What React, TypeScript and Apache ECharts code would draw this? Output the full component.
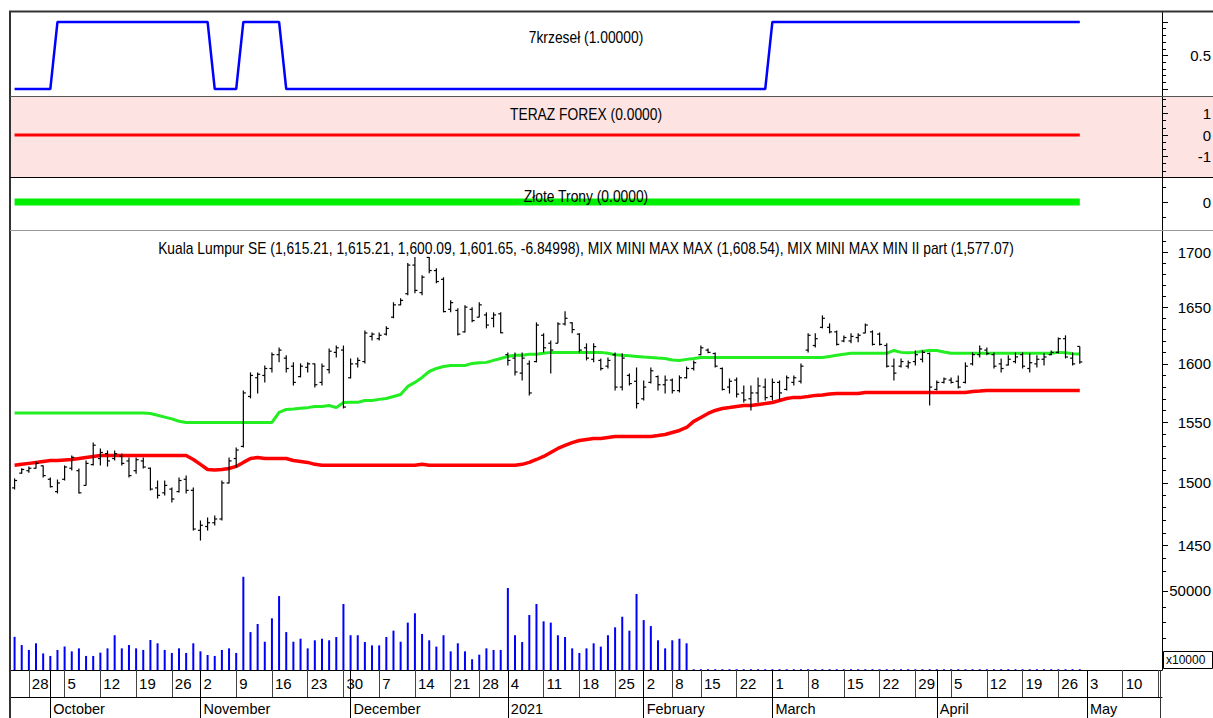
import React, { useEffect, useRef } from "react";
import * as echarts from "echarts";

// ---------- categories: trading days ----------
const TRADING_DAYS: [number, number, number[]][] = [
  [2020, 9, [24, 25, 28, 29, 30]],
  [2020, 10, [1, 2, 5, 6, 7, 8, 9, 12, 13, 14, 15, 16, 19, 20, 21, 22, 23, 26, 27, 28, 30]],
  [2020, 11, [2, 3, 4, 5, 6, 9, 10, 11, 12, 13, 16, 17, 18, 19, 20, 23, 24, 25, 26, 27, 30]],
  [2020, 12, [1, 2, 3, 4, 7, 8, 9, 10, 11, 14, 15, 16, 17, 18, 21, 22, 23, 24, 28, 29, 30, 31]],
  [2021, 1, [4, 5, 6, 7, 8, 11, 12, 13, 14, 15, 18, 19, 20, 21, 22, 25, 26, 27, 29]],
  [2021, 2, [2, 3, 4, 5, 8, 9, 10, 11, 15, 16, 17, 18, 19, 22, 23, 24, 25, 26]],
  [2021, 3, [1, 2, 3, 4, 5, 8, 9, 10, 11, 12, 15, 16, 17, 18, 19, 22, 23, 24, 25, 26, 29, 30, 31]],
  [2021, 4, [1, 2, 5, 6, 7, 8, 9, 12, 13, 14, 15, 16, 19, 20, 21, 22, 23, 26, 27, 28, 29]],
  [2021, 5, [3, 4, 5, 6, 7, 10, 11, 12, 13, 14, 17]],
];
const MONTH_NAMES = ["", "January", "February", "March", "April", "May", "June", "July", "August", "September", "October", "November", "December"];

// ---------- series values ----------
// Kuala Lumpur SE daily bars: [open, high, low, close]
const KLSE_BARS: number[][] = [
  [1496, 1503.7, 1494.7, 1502], [1508, 1512, 1507.6, 1511], [1510, 1513.4, 1508.4, 1512], [1512, 1517.6, 1511.8, 1516], [1514, 1514.3, 1504.4, 1506],
  [1503, 1504.4, 1496.3, 1497], [1493, 1502.8, 1491.5, 1500], [1503, 1514.3, 1502, 1513], [1512, 1522.5, 1510.1, 1521], [1510, 1511.8, 1491.5, 1492],
  [1498, 1518.4, 1498, 1516], [1515, 1533.2, 1514.3, 1531], [1520, 1528.2, 1514.3, 1525], [1524, 1526.6, 1513.4, 1518], [1520, 1526.6, 1518.4, 1524],
  [1522, 1524.1, 1514.3, 1516], [1518, 1520.9, 1504.4, 1506], [1510, 1520.9, 1507.6, 1519], [1518, 1520.9, 1511.8, 1513], [1512, 1512.6, 1493.9, 1495],
  [1496, 1502, 1487.4, 1490], [1492, 1502, 1489.8, 1498], [1495, 1496.3, 1484.2, 1487], [1493, 1504.4, 1492.3, 1502], [1503, 1506, 1491.5, 1494],
  [1494, 1496.3, 1461.8, 1463], [1462, 1469.8, 1453.9, 1466], [1465, 1472.2, 1461.8, 1468], [1468, 1473.8, 1465.8, 1471], [1471, 1502, 1469.8, 1500],
  [1500, 1520.9, 1499.6, 1518], [1520, 1529, 1512.6, 1527], [1530, 1577.1, 1529, 1575], [1572, 1592.6, 1570.3, 1590], [1588, 1592.6, 1574.5, 1591],
  [1590, 1598.6, 1584, 1596], [1596, 1610, 1592.6, 1608], [1608, 1614.3, 1601.3, 1612], [1605, 1607.4, 1592.6, 1596], [1598, 1601.3, 1581.4, 1584],
  [1589, 1600.4, 1588.3, 1598], [1597, 1601.3, 1592.6, 1600], [1600, 1600.4, 1579.7, 1582], [1584, 1600.4, 1581.4, 1598], [1595, 1613.4, 1591.7, 1611],
  [1610, 1616, 1605.6, 1614], [1612, 1616, 1561.8, 1563], [1588, 1604.7, 1587.4, 1600], [1600, 1605.6, 1596.9, 1603], [1602, 1629.3, 1600.4, 1627],
  [1624, 1627.5, 1620.5, 1626], [1622, 1627.5, 1620.5, 1625], [1626, 1632.9, 1624.9, 1631], [1641, 1654.3, 1640, 1652], [1652, 1657.9, 1651.6, 1656],
  [1662, 1689.9, 1660.6, 1688], [1688, 1695.4, 1662.4, 1665], [1663, 1678.8, 1660.6, 1677], [1695, 1695.4, 1680.6, 1683], [1683, 1685.2, 1671.5, 1673],
  [1675, 1676.9, 1645.3, 1646], [1648, 1656.1, 1645.3, 1654], [1647, 1648.9, 1624.9, 1626], [1628, 1651.6, 1627.5, 1650], [1648, 1649.8, 1636.4, 1638],
  [1641, 1654.3, 1640.9, 1652], [1643, 1645.3, 1631.1, 1634], [1640, 1645.3, 1632, 1643], [1644, 1645.3, 1626.7, 1627.2], [1608, 1610, 1598.6, 1603],
  [1605, 1610, 1590, 1593], [1592, 1610, 1585.7, 1605], [1600, 1603, 1572.8, 1575], [1602, 1636.4, 1601.3, 1634], [1625, 1626.7, 1610, 1614],
  [1618, 1620.5, 1591.7, 1612], [1618, 1636.4, 1617.9, 1635], [1635, 1646.2, 1633.7, 1640], [1636, 1636.4, 1626.7, 1630], [1626, 1626.7, 1610, 1612],
  [1614, 1617.9, 1603, 1605], [1604, 1617.9, 1601.3, 1615], [1603, 1604.7, 1594.3, 1596], [1598, 1605.6, 1596, 1603], [1608, 1610, 1577.1, 1580],
  [1580, 1609.2, 1577.1, 1605], [1590, 1591.7, 1581.4, 1583], [1585, 1596.9, 1561.8, 1566], [1570, 1585.7, 1568.6, 1580], [1584, 1596.9, 1583.1, 1594],
  [1589, 1590, 1577.1, 1582], [1582, 1590, 1574.5, 1586], [1586, 1587.4, 1574.5, 1577], [1577, 1590, 1575.4, 1588], [1588, 1597.7, 1587.4, 1596],
  [1596, 1603, 1594.3, 1601], [1608, 1616, 1607.4, 1614], [1612, 1613.4, 1609.2, 1610], [1609, 1610, 1596.9, 1598], [1596, 1596.9, 1577.1, 1578],
  [1580, 1587.4, 1574.5, 1585], [1586, 1588.3, 1571.1, 1574], [1575, 1581.4, 1566.9, 1569], [1570, 1581.4, 1560.1, 1575], [1575, 1588.3, 1566.9, 1581],
  [1580, 1587.4, 1568.6, 1571], [1572, 1587.4, 1568.6, 1584], [1584, 1585.7, 1568.6, 1575], [1578, 1590, 1577.1, 1588], [1584, 1590, 1581.4, 1588],
  [1585, 1600.4, 1583.1, 1598], [1612, 1626.7, 1610, 1625], [1616, 1626.7, 1614.3, 1622], [1632, 1642.6, 1631.1, 1640], [1632, 1635.5, 1626.7, 1628],
  [1628, 1629.3, 1616, 1617], [1620, 1624.9, 1618.8, 1623], [1620, 1626.7, 1617.9, 1624], [1623, 1626.7, 1618.8, 1625], [1627, 1635.5, 1626.7, 1634],
  [1628, 1629.3, 1616, 1617], [1626, 1627.5, 1616, 1617], [1616, 1617.9, 1596.9, 1598], [1598, 1604.7, 1585.7, 1592], [1598, 1604.7, 1596.9, 1602],
  [1598, 1603, 1596, 1601], [1602, 1611.7, 1598.6, 1608], [1604, 1611.7, 1601.3, 1610], [1609, 1610, 1564.3, 1580], [1578, 1585.7, 1577.1, 1584],
  [1584, 1588.3, 1583.1, 1587], [1586, 1588.3, 1583.1, 1584], [1585, 1590, 1578.8, 1580], [1584, 1601.3, 1583.1, 1598], [1600, 1610, 1598.6, 1608],
  [1608, 1616, 1605.6, 1613], [1612, 1614.3, 1607.4, 1609], [1608, 1610, 1596, 1598], [1600, 1604.7, 1592.6, 1596], [1599, 1607.4, 1598.6, 1604],
  [1602, 1610, 1600.4, 1606], [1608, 1610, 1596, 1598], [1596, 1609.2, 1592.6, 1601], [1600, 1607.4, 1596.9, 1604], [1604, 1609.2, 1598.6, 1606],
  [1608, 1611.7, 1607.4, 1610], [1610, 1623.1, 1609.2, 1622], [1622, 1624.9, 1604.7, 1606], [1605, 1610, 1598.6, 1600], [1615.21, 1615.21, 1600.09, 1601.65],
];

// MIX MINI MAX MAX
const MIX_MAX = [
  1558, 1558, 1558, 1558, 1558, 1558, 1558, 1558, 1558, 1558,
  1558, 1558, 1558, 1558, 1558, 1558, 1558, 1558, 1558, 1557.5,
  1556, 1554.5, 1553, 1551, 1550, 1550, 1550, 1550, 1550, 1550,
  1550, 1550, 1550, 1550, 1550, 1550, 1550, 1558.5, 1561, 1561.3,
  1562, 1562.5, 1563.4, 1563.4, 1564.3, 1562.5, 1566.9, 1567, 1567, 1568.6,
  1568.6, 1569.5, 1570.3, 1572, 1573.7, 1580.6, 1584, 1588.3, 1593.4, 1596,
  1597.7, 1598.6, 1598.6, 1598.6, 1600.4, 1601, 1601.3, 1603, 1604.7, 1606.5,
  1607.4, 1607.4, 1608.3, 1608.3, 1609.2, 1610, 1610, 1610, 1610, 1610,
  1610, 1610, 1610, 1609.2, 1608, 1607.4, 1607, 1606.5, 1606, 1605.6,
  1605, 1604.7, 1603.4, 1603, 1603.9, 1604.7, 1605.6, 1605.6, 1605.6, 1605.6,
  1605.6, 1605.6, 1605.6, 1605.6, 1605.6, 1605.6, 1605.6, 1605.6, 1605.6, 1605.6,
  1605.6, 1605.6, 1605.6, 1605.6, 1606.5, 1607.4, 1608.3, 1609.2, 1609.2, 1609.2,
  1609.2, 1609.2, 1609.2, 1611.7, 1610, 1609.6, 1610, 1610.9, 1611.7, 1611.7,
  1610.4, 1609.2, 1609.2, 1609.2, 1609.2, 1609.2, 1609.2, 1609.2, 1609.2, 1609.2,
  1609.2, 1609.2, 1609.2, 1609.2, 1609.2, 1609.2, 1610, 1609.6, 1608.8, 1608.54,
];

// MIX MINI MAX MIN II part
const MIX_MIN = [
  1514.4, 1515.2, 1516, 1516.8, 1517.6, 1518.4, 1518.4, 1518.8, 1519.2, 1520,
  1520.9, 1521.7, 1522.5, 1522.5, 1522.5, 1522.5, 1522.5, 1522.5, 1522.5, 1522.5,
  1522.5, 1522.5, 1522.5, 1522.5, 1522.5, 1519.2, 1515.2, 1511, 1510.5, 1511,
  1511.8, 1513.5, 1516.8, 1520, 1520.9, 1520, 1520, 1520, 1520, 1518.4,
  1517.6, 1516.8, 1515.2, 1514.4, 1514.4, 1514.4, 1514.4, 1514.4, 1514.4, 1514.4,
  1514.4, 1514.4, 1514.4, 1514.4, 1514.4, 1514.4, 1514.4, 1515.2, 1514.4, 1514.4,
  1514.4, 1514.4, 1514.4, 1514.4, 1514.4, 1514.4, 1514.4, 1514.4, 1514.4, 1514.4,
  1514.4, 1515.2, 1516.8, 1519.2, 1521.7, 1525, 1528.3, 1530.8, 1533.2, 1534.9,
  1535.7, 1536.5, 1536.5, 1537.4, 1538.2, 1538.2, 1538.2, 1538.2, 1538.2, 1538.2,
  1539, 1539.9, 1541.6, 1543.3, 1545.8, 1550.9, 1554.2, 1557.6, 1560.1, 1561.8,
  1562.6, 1563.5, 1564.3, 1564.3, 1565.2, 1566, 1566.9, 1568.6, 1570.3, 1571.2,
  1571.2, 1572, 1572.9, 1573.3, 1574.1, 1574.5, 1574.5, 1574.5, 1574.5, 1575.4,
  1575.4, 1575.4, 1575.4, 1575.4, 1575.4, 1575.4, 1575.4, 1575.4, 1575.4, 1575.4,
  1575.4, 1575.4, 1575.4, 1575.4, 1576.2, 1576.6, 1577.07, 1577.07, 1577.07, 1577.07,
  1577.07, 1577.07, 1577.07, 1577.07, 1577.07, 1577.07, 1577.07, 1577.07, 1577.07, 1577.07,
];

// Volume (x10000)
const VOLUME = [
  21000, 15800, 12700, 16900, 10500, 8900, 12700, 14800, 11800, 13700,
  8900, 8900, 11000, 13700, 22000, 13700, 15800, 13700, 12700, 19000,
  16900, 12700, 10800, 13700, 10800, 16900, 11800, 9500, 8900, 12700,
  13700, 10800, 59000, 24000, 29100, 17900, 32700, 46800, 24000, 17900,
  19800, 13700, 18800, 19800, 18800, 20900, 41800, 22000, 22000, 17700,
  15600, 15600, 20900, 24900, 17900, 30000, 35900, 22800, 18800, 14800,
  22000, 11800, 16900, 11800, 6800, 9700, 13700, 12700, 12700, 51900,
  22000, 17700, 34800, 41800, 30800, 30000, 22000, 20900, 13700, 10800,
  13700, 16900, 14800, 22000, 27000, 33700, 24900, 48100, 31600, 27800,
  18800, 13700, 18800, 19800, 16900, 500, 500, 500, 500, 500,
  500, 500, 500, 500, 500, 500, 500, 500, 500, 500,
  500, 500, 500, 500, 500, 500, 500, 500, 500, 500,
  500, 500, 500, 500, 500, 500, 500, 500, 500, 500,
  500, 500, 500, 500, 500, 500, 500, 500, 500, 500,
  500, 500, 500, 500, 500, 500, 500, 500, 500, 500,
];

// 7krzeseł signal
const KRZESEL = [
  0, 0, 0, 0, 0, 0, 1, 1, 1, 1,
  1, 1, 1, 1, 1, 1, 1, 1, 1, 1,
  1, 1, 1, 1, 1, 1, 1, 1, 0, 0,
  0, 0, 1, 1, 1, 1, 1, 1, 0, 0,
  0, 0, 0, 0, 0, 0, 0, 0, 0, 0,
  0, 0, 0, 0, 0, 0, 0, 0, 0, 0,
  0, 0, 0, 0, 0, 0, 0, 0, 0, 0,
  0, 0, 0, 0, 0, 0, 0, 0, 0, 0,
  0, 0, 0, 0, 0, 0, 0, 0, 0, 0,
  0, 0, 0, 0, 0, 0, 0, 0, 0, 0,
  0, 0, 0, 0, 0, 0, 1, 1, 1, 1,
  1, 1, 1, 1, 1, 1, 1, 1, 1, 1,
  1, 1, 1, 1, 1, 1, 1, 1, 1, 1,
  1, 1, 1, 1, 1, 1, 1, 1, 1, 1,
  1, 1, 1, 1, 1, 1, 1, 1, 1, 1,
];

// flat indicators: [category index, value]
const TERAZ_FOREX = [[0, 0], [149, 0]];
const ZLOTE_TRONY = [[0, 0], [149, 0]];

// tick labels
const PRICE_TICKS = [1450, 1500, 1550, 1600, 1650, 1700];
const PRICE_MINOR_TICKS = [1430, 1440, 1460, 1470, 1480, 1490, 1510, 1520, 1530, 1540, 1560, 1570, 1580, 1590, 1610, 1620, 1630, 1640, 1660, 1670, 1680, 1690, 1710, 1720];
const VOLUME_TICKS = [50000];
const VOLUME_MINOR_TICKS = [10000, 20000, 30000, 40000];

const TITLES = {
  krzesel: "7krzeseł (1.00000)",
  teraz: "TERAZ FOREX (0.0000)",
  zlote: "Złote Trony (0.0000)",
  klse: "Kuala Lumpur SE (1,615.21, 1,615.21, 1,600.09, 1,601.65, -6.84998), MIX MINI MAX MAX (1,608.54), MIX MINI MAX MIN II part (1,577.07)",
};

// ---------- derived ----------
const pad = (n: number) => (n < 10 ? "0" + n : "" + n);
const DATES: string[] = TRADING_DAYS.flatMap(([y, m, days]) => days.map((d) => `${y}-${pad(m)}-${pad(d)}`));
const weekKey = (s: string) => {
  const [y, m, d] = s.split("-").map(Number);
  return Math.floor((Date.UTC(y, m - 1, d) / 86400000 + 3) / 7);
};
const WEEK_STARTS = new Set<number>();
const MONTH_STARTS = new Set<number>();
DATES.forEach((s, i) => {
  if (i === 0) return;
  if (weekKey(s) !== weekKey(DATES[i - 1])) WEEK_STARTS.add(i);
  if (s.slice(0, 7) !== DATES[i - 1].slice(0, 7)) MONTH_STARTS.add(i);
});
const LAST = DATES.length - 1;

const FONT = "'Liberation Sans', Arial, sans-serif";
const ln = Math.log;

export default function App() {
  const ref = useRef<HTMLDivElement>(null);
  useEffect(() => {
    const chart = echarts.init(ref.current!, null, { renderer: "svg" });
    const L = 11, R = 51;
    const hiddenX = (gi: number) => ({ type: "category", gridIndex: gi, data: DATES, boundaryGap: true, show: false });
    const lbl = { fontFamily: FONT, fontSize: 15, color: "#000" };
    const xl = { fontFamily: FONT, fontSize: 14.5, color: "#000" };
    const rightAxis = (gi: number, min: number, max: number, ticks: number[], len: number, labels: number[] | null, fmt?: (v: number) => string, line = true) => ({
      type: "value", gridIndex: gi, position: "right", min, max,
      axisLine: { show: line, lineStyle: { color: "#000", width: 1 } },
      axisTick: { show: true, inside: false, length: len, customValues: ticks, lineStyle: { color: "#000" } },
      axisLabel: labels ? { show: true, customValues: labels, align: "right", margin: 49, formatter: fmt || ((v: number) => String(v)), ...lbl } : { show: false },
      splitLine: { show: false },
    });
    const grid = (top: number, height: number) => ({ left: L, right: R, top, height, outerBoundsMode: "none", containLabel: false });
    const title = (text: string, y: number) => ({
      type: "text", z: 11, x: 586, y, scaleX: 0.865,
      style: { text, x: 0, y: 0, font: "16px " + FONT, fill: "#000", align: "center", textAlign: "center", verticalAlign: "middle", textVerticalAlign: "middle" },
    });

    const option: any = {
      animation: false,
      backgroundColor: "#fff",
      grid: [grid(12, 84), grid(96, 81), grid(177, 53), grid(230, 440)],
      xAxis: [
        hiddenX(0), hiddenX(1), hiddenX(2),
        {
          type: "category", gridIndex: 3, data: DATES, boundaryGap: true, position: "bottom",
          axisLine: { show: true, lineStyle: { color: "#000", width: 1 } },
          axisTick: { show: true, alignWithLabel: true, interval: (i: number) => WEEK_STARTS.has(i), length: 27, lineStyle: { color: "#444", width: 1 } },
          axisLabel: { show: true, interval: (i: number) => WEEK_STARTS.has(i) && i !== LAST, formatter: (v: string) => String(Number(v.slice(8))), align: "left", padding: [0, 0, 0, 3], margin: 6, ...xl, fontSize: 15 },
          splitLine: { show: false },
        },
        {
          type: "category", gridIndex: 3, data: DATES, boundaryGap: true, position: "bottom",
          axisLine: { show: false },
          axisTick: { show: true, alignWithLabel: true, interval: (i: number) => MONTH_STARTS.has(i), length: 48, lineStyle: { color: "#000", width: 1 } },
          axisLabel: {
            show: true, interval: (i: number) => MONTH_STARTS.has(i),
            formatter: (v: string) => { const m = Number(v.slice(5, 7)); return m === 1 ? v.slice(0, 4) : MONTH_NAMES[m]; },
            align: "left", padding: [0, 0, 0, 3], margin: 31, ...xl,
          },
          splitLine: { show: false },
        },
        {
          type: "category", gridIndex: 3, data: DATES, boundaryGap: true, position: "bottom", offset: 27,
          axisLine: { show: true, lineStyle: { color: "#000", width: 1 } },
          axisTick: { show: false }, axisLabel: { show: false }, splitLine: { show: false },
        },
      ],
      yAxis: [
        rightAxis(0, -0.104, 1.149, [0, 0.5, 1], 6, [0.5]),
        rightAxis(0, -0.104, 1.149, [0.1, 0.2, 0.3, 0.4, 0.6, 0.7, 0.8, 0.9], 4, null, undefined, false),
        rightAxis(1, -1.953, 1.814, [-1, 0, 1], 6, [-1, 0, 1]),
        rightAxis(1, -1.953, 1.814, [-5 / 3, -4 / 3, -2 / 3, -1 / 3, 1 / 3, 2 / 3, 4 / 3, 5 / 3], 4, null, undefined, false),
        rightAxis(2, -1.12, 1, [0], 6, [0]),
        rightAxis(2, -1.12, 1, [-0.6, 0.6], 4, null, undefined, false),
        rightAxis(3, ln(1355.4), ln(1720.4), PRICE_TICKS.map(ln), 6, PRICE_TICKS.map(ln), (v: number) => String(Math.round(Math.exp(v)))),
        rightAxis(3, ln(1355.4), ln(1720.4), PRICE_MINOR_TICKS.map(ln), 4, null, undefined, false),
        rightAxis(3, 0, 278480, VOLUME_TICKS, 6, VOLUME_TICKS, undefined, false),
        rightAxis(3, 0, 278480, VOLUME_MINOR_TICKS, 4, null, undefined, false),
      ],
      series: [
        { type: "line", name: "7krzeseł", xAxisIndex: 0, yAxisIndex: 0, data: KRZESEL, symbol: "none", lineStyle: { color: "#0000ff", width: 2.5 }, z: 3 },
        { type: "line", name: "TERAZ FOREX", xAxisIndex: 1, yAxisIndex: 2, data: TERAZ_FOREX, symbol: "none", lineStyle: { color: "#ff0000", width: 3 }, z: 3 },
        { type: "line", name: "Złote Trony", xAxisIndex: 2, yAxisIndex: 4, data: ZLOTE_TRONY, symbol: "none", lineStyle: { color: "#00ee00", width: 7 }, z: 3 },
        { type: "bar", name: "Volume", xAxisIndex: 3, yAxisIndex: 8, data: VOLUME, barWidth: 2, itemStyle: { color: "#0000ff" }, z: 2 },
        { type: "line", name: "MIX MINI MAX MAX", xAxisIndex: 3, yAxisIndex: 6, data: MIX_MAX.map(ln), symbol: "none", lineStyle: { color: "#22ee22", width: 3 }, z: 3 },
        { type: "line", name: "MIX MINI MAX MIN II part", xAxisIndex: 3, yAxisIndex: 6, data: MIX_MIN.map(ln), symbol: "none", lineStyle: { color: "#ff0000", width: 3.5 }, z: 3 },
        {
          type: "custom", name: "Kuala Lumpur SE", xAxisIndex: 3, yAxisIndex: 6, z: 4,
          data: KLSE_BARS.map((b, i) => [i, ln(b[0]), ln(b[1]), ln(b[2]), ln(b[3])]),
          encode: { x: 0, y: [1, 2, 3, 4] },
          renderItem: (params: any, api: any) => {
            const i = api.value(0);
            const o = api.coord([i, api.value(1)]);
            const h = api.coord([i, api.value(2)]);
            const l = api.coord([i, api.value(3)]);
            const c = api.coord([i, api.value(4)]);
            const x = o[0];
            const st = { stroke: "#000", lineWidth: 1.2 };
            return {
              type: "group",
              children: [
                { type: "line", shape: { x1: x, y1: h[1], x2: x, y2: l[1] }, style: st },
                { type: "line", shape: { x1: x - 2.5, y1: o[1], x2: x, y2: o[1] }, style: st },
                { type: "line", shape: { x1: x, y1: c[1], x2: x + 2.5, y2: c[1] }, style: st },
              ],
            };
          },
        },
      ],
      graphic: [
        { type: "rect", z: -10, shape: { x: 10, y: 96, width: 1203, height: 81 }, style: { fill: "#fde3e1" } },
        { type: "line", z: 10, shape: { x1: 9, y1: 11.5, x2: 1213, y2: 11.5 }, style: { stroke: "#333", lineWidth: 2 } },
        { type: "line", z: 10, shape: { x1: 10, y1: 11, x2: 10, y2: 718 }, style: { stroke: "#333", lineWidth: 2 } },
        { type: "line", z: 10, shape: { x1: 10, y1: 96.5, x2: 1213, y2: 96.5 }, style: { stroke: "#555", lineWidth: 1 } },
        { type: "line", z: 10, shape: { x1: 10, y1: 177.5, x2: 1213, y2: 177.5 }, style: { stroke: "#000", lineWidth: 1 } },
        { type: "line", z: 10, shape: { x1: 10, y1: 230.5, x2: 1213, y2: 230.5 }, style: { stroke: "#999", lineWidth: 1 } },
        { type: "line", z: 10, shape: { x1: 1160.5, y1: 670, x2: 1160.5, y2: 718 }, style: { stroke: "#333", lineWidth: 1 } },
        { type: "rect", z: 10, shape: { x: 1163.5, y: 651.5, width: 49, height: 17 }, style: { fill: "#fff", stroke: "#000", lineWidth: 1 } },
        { type: "text", z: 11, style: { text: "x10000", x: 1166, y: 660, font: "12px " + FONT, fill: "#000", verticalAlign: "middle", textVerticalAlign: "middle" } },
        title(TITLES.krzesel, 37),
        title(TITLES.teraz, 114),
        title(TITLES.zlote, 196),
        title(TITLES.klse, 248),
      ],
    };
    chart.setOption(option);
    return () => chart.dispose();
  }, []);
  return <div ref={ref} style={{ position: "fixed", left: 0, top: 0, width: 1213, height: 718, background: "#fff" }} />;
}
